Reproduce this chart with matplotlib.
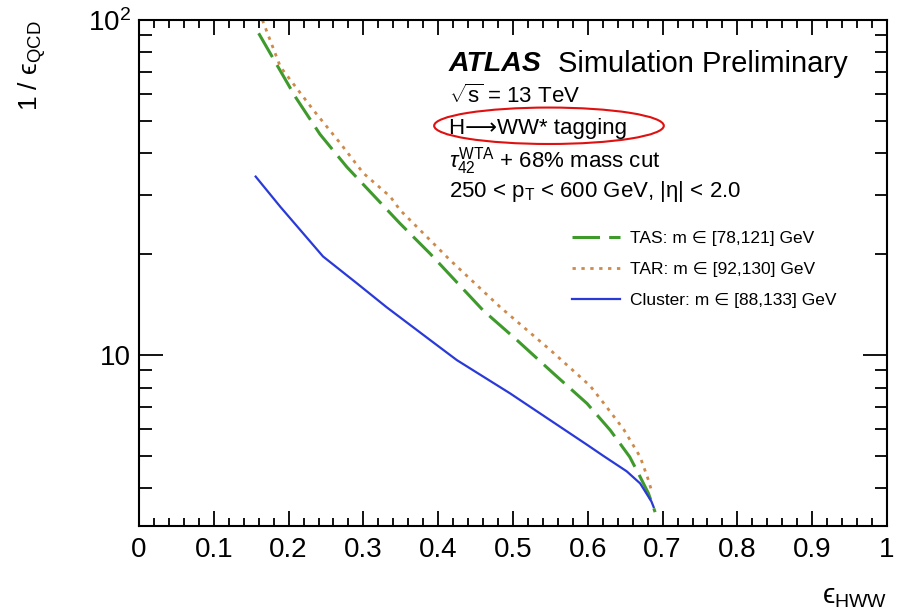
import matplotlib
matplotlib.use("Agg")
import matplotlib.pyplot as plt
from matplotlib.patches import Ellipse
from matplotlib.ticker import FixedLocator, MultipleLocator, LogLocator, NullFormatter

plt.rcParams['font.family'] = ['Liberation Sans', 'DejaVu Sans']
plt.rcParams['mathtext.fontset'] = 'custom'
plt.rcParams['mathtext.rm'] = 'Liberation Sans'
plt.rcParams['mathtext.it'] = 'Liberation Sans:italic'
plt.rcParams['mathtext.bf'] = 'Liberation Sans:bold'

# signal efficiency vs 1/background efficiency
tas_eff = [0.160, 0.209, 0.242, 0.278, 0.311, 0.349, 0.389, 0.460, 0.505, 0.554,
           0.599, 0.630, 0.656, 0.670, 0.681, 0.690]
tas_rej = [91.3, 59.0, 45.6, 36.4, 30.4, 24.7, 20.1, 13.6, 11.1, 8.82,
           7.17, 5.97, 4.97, 4.33, 3.87, 3.40]

tar_eff = [0.165, 0.189, 0.233, 0.269, 0.300, 0.336, 0.349, 0.416, 0.483, 0.550,
           0.603, 0.621, 0.648, 0.670, 0.681, 0.685]
tar_rej = [100.0, 72.5, 53.9, 42.9, 34.9, 29.7, 27.1, 19.2, 13.9, 10.35,
           8.10, 7.20, 6.00, 4.97, 4.24, 3.95]

clu_eff = [0.156, 0.189, 0.246, 0.291, 0.331, 0.389, 0.425, 0.496, 0.599, 0.621,
           0.652, 0.670, 0.685, 0.688]
clu_rej = [34.1, 27.7, 19.7, 16.4, 13.9, 11.1, 9.66, 7.69, 5.40, 5.00,
           4.50, 4.14, 3.66, 3.52]

labels = ["TAS: m \u2208 [78,121] GeV",
          "TAR: m \u2208 [92,130] GeV",
          "Cluster: m \u2208 [88,133] GeV"]

fig = plt.figure(figsize=(9.03, 6.12), dpi=100)
ax = fig.add_axes([0.1539, 0.1405, 0.8284, 0.8268])

ax.plot(tas_eff, tas_rej, color='#3f9a2c', lw=2.2, dashes=(9, 3), label=labels[0])
ax.plot(tar_eff, tar_rej, color='#cd8a4a', lw=2.0, dashes=(1.2, 2.0), label=labels[1])
ax.plot(clu_eff, clu_rej, color='#2a3ad8', lw=1.6, label=labels[2])

ax.set_yscale('log')
ax.set_xlim(0, 1)
ax.set_ylim(3.09, 100)

ax.set_xticks([i / 10 for i in range(11)])
ax.set_xticklabels(['0', '0.1', '0.2', '0.3', '0.4', '0.5', '0.6', '0.7', '0.8', '0.9', '1'])
ax.xaxis.set_minor_locator(MultipleLocator(0.02))

ax.yaxis.set_major_locator(FixedLocator([10, 100]))
ax.set_yticklabels(['10', '$10^2$'])
ax.yaxis.set_minor_locator(LogLocator(base=10, subs=range(2, 10)))
ax.yaxis.set_minor_formatter(NullFormatter())

ax.tick_params(which='both', direction='in', top=True, right=True, labelsize=20, width=1.3)
ax.tick_params(axis='x', which='major', length=11, pad=8)
ax.tick_params(axis='x', which='minor', length=6)
ax.tick_params(axis='y', which='major', length=17, pad=6)
ax.tick_params(axis='y', which='minor', length=9)
for s in ax.spines.values():
    s.set_linewidth(1.5)

ax.set_xlabel('\u03f5$_{\\mathrm{HWW}}$', fontsize=20, loc='right')
ax.xaxis.set_label_coords(1.0, -0.115)
ax.set_ylabel('1 / \u03f5$_{\\mathrm{QCD}}$', fontsize=19, loc='top')
ax.yaxis.set_label_coords(-0.122, 1.0)

tx = 0.4144
ax.text(tx, 0.913, 'ATLAS', transform=ax.transAxes, fontsize=20.5, fontweight='bold',
        fontstyle='italic', va='center')
ax.text(0.560, 0.913, 'Simulation Preliminary', transform=ax.transAxes, fontsize=21,
        va='center')
ax.text(tx, 0.850, '$\\sqrt{\\mathrm{s}}$ = 13 TeV', transform=ax.transAxes, fontsize=16,
        va='center')
ax.text(tx, 0.786, 'H\u27f6WW* tagging', transform=ax.transAxes, fontsize=16, va='center')
ax.text(tx, 0.722, '$\\tau_{42}^{\\mathrm{WTA}}$ + 68% mass cut', transform=ax.transAxes,
        fontsize=16, va='center')
ax.text(tx, 0.662, '250 < p$_{\\mathrm{T}}$ < 600 GeV, |\u03b7| < 2.0', transform=ax.transAxes,
        fontsize=16, va='center')

ax.add_patch(Ellipse((0.5481, 0.791), 0.307, 0.072, transform=ax.transAxes,
                     fill=False, edgecolor='#e01010', lw=1.5))

ax.legend(loc='upper left', bbox_to_anchor=(0.579, 0.583), frameon=False, fontsize=12.5,
          handlelength=2.76, handletextpad=0.57, labelspacing=0.9, borderaxespad=0,
          borderpad=0)

fig.savefig('out.png', dpi=100)
